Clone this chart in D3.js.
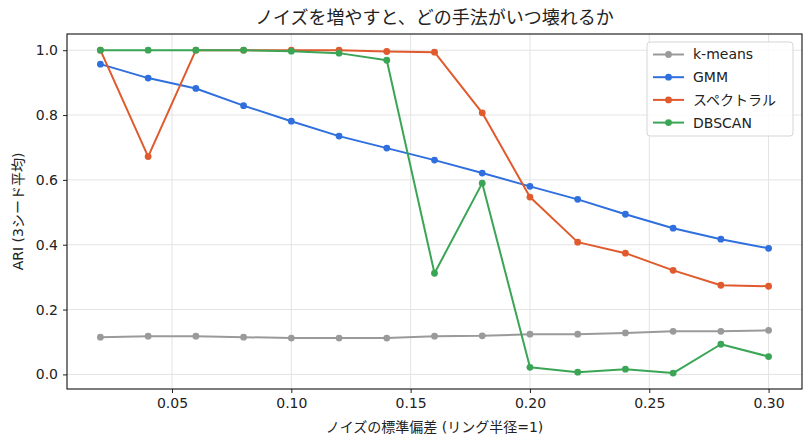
<!DOCTYPE html>
<html lang="ja">
<head>
<meta charset="utf-8">
<script src="https://cdn.jsdelivr.net/npm/d3@7/dist/d3.min.js"></script>
<style>
  body { margin: 0; background: #fff; }
  text { font-family: "DejaVu Sans", "Noto Sans CJK JP", sans-serif; fill: #222; }
</style>
</head>
<body>
<svg width="812" height="448"></svg>
<script>
// noise std values
var noise = [0.02, 0.04, 0.06, 0.08, 0.10, 0.12, 0.14, 0.16, 0.18, 0.20, 0.22, 0.24, 0.26, 0.28, 0.30];

var kmeans   = [0.115, 0.118, 0.118, 0.115, 0.112, 0.112, 0.112, 0.118, 0.119, 0.124, 0.124, 0.128, 0.133, 0.133, 0.136];
var gmm      = [0.957, 0.914, 0.882, 0.829, 0.781, 0.735, 0.698, 0.661, 0.621, 0.580, 0.540, 0.494, 0.451, 0.417, 0.389];
var spectral = [1.000, 0.672, 1.000, 1.000, 1.000, 1.000, 0.996, 0.994, 0.807, 0.547, 0.408, 0.374, 0.321, 0.275, 0.272];
var dbscan   = [1.000, 1.000, 1.000, 1.000, 0.997, 0.991, 0.969, 0.312, 0.590, 0.022, 0.007, 0.016, 0.004, 0.093, 0.055];

var xTicks = [0.05, 0.10, 0.15, 0.20, 0.25, 0.30];
var yTicks = [0.0, 0.2, 0.4, 0.6, 0.8, 1.0];

var seriesNames  = ["k-means", "GMM", "スペクトラル", "DBSCAN"];
var seriesColors = ["#9a9a9a", "#2f6fde", "#e05a2d", "#3ba556"];
var seriesData   = [kmeans, gmm, spectral, dbscan];

var margin = {top: 34, right: 10, bottom: 59, left: 67};
var width = 812 - margin.left - margin.right;
var height = 448 - margin.top - margin.bottom;

var svg = d3.select("svg");
var g = svg.append("g")
  .attr("transform", "translate(" + margin.left + "," + margin.top + ")");

var x = d3.scaleLinear().domain([0.006, 0.314]).range([0, width]);
var y = d3.scaleLinear().domain([-0.045, 1.05]).range([height, 0]);

// grid
g.append("g").selectAll("line").data(xTicks).enter().append("line")
  .attr("x1", function(d) { return x(d); }).attr("x2", function(d) { return x(d); })
  .attr("y1", 0).attr("y2", height)
  .attr("stroke", "#e3e3e3").attr("stroke-width", 1);
g.append("g").selectAll("line").data(yTicks).enter().append("line")
  .attr("y1", function(d) { return y(d); }).attr("y2", function(d) { return y(d); })
  .attr("x1", 0).attr("x2", width)
  .attr("stroke", "#e3e3e3").attr("stroke-width", 1);

// axes
var xAxis = g.append("g")
  .attr("transform", "translate(0," + height + ")")
  .call(d3.axisBottom(x).tickValues(xTicks).tickFormat(d3.format(".2f")).tickSizeOuter(0).tickSize(4).tickPadding(5));
var yAxis = g.append("g")
  .call(d3.axisLeft(y).tickValues(yTicks).tickFormat(d3.format(".1f")).tickSizeOuter(0).tickSize(4).tickPadding(5));
[xAxis, yAxis].forEach(function(a) {
  a.select(".domain").remove();
  a.selectAll("text").style("font-size", "14px").style("font-family", '"DejaVu Sans", sans-serif').attr("fill", "#222");
  a.selectAll("line").attr("stroke", "#222");
});

// lines
var line = d3.line()
  .x(function(d, i) { return x(noise[i]); })
  .y(function(d) { return y(d); });

seriesData.forEach(function(s, k) {
  g.append("path")
    .datum(s)
    .attr("fill", "none")
    .attr("stroke", seriesColors[k])
    .attr("stroke-width", 2)
    .attr("stroke-linejoin", "round")
    .attr("d", line);
  g.append("g").selectAll("circle").data(s).enter().append("circle")
    .attr("cx", function(d, i) { return x(noise[i]); })
    .attr("cy", function(d) { return y(d); })
    .attr("r", 3.4)
    .attr("fill", seriesColors[k]);
});

// frame
g.append("rect")
  .attr("width", width).attr("height", height)
  .attr("fill", "none").attr("stroke", "#111").attr("stroke-width", 1.1);

// legend
var lg = g.append("g").attr("transform", "translate(" + (647 - margin.left) + "," + (42 - margin.top) + ")");
lg.append("rect")
  .attr("width", 146).attr("height", 94).attr("rx", 3)
  .attr("fill", "#fff").attr("fill-opacity", 0.85)
  .attr("stroke", "#d5d5d5");
seriesNames.forEach(function(name, k) {
  var row = lg.append("g").attr("transform", "translate(0," + (12.5 + k * 22.7) + ")");
  row.append("line").attr("x1", 6).attr("x2", 37).attr("y1", 0).attr("y2", 0)
    .attr("stroke", seriesColors[k]).attr("stroke-width", 2);
  row.append("circle").attr("cx", 21.5).attr("cy", 0).attr("r", 3.4).attr("fill", seriesColors[k]);
  row.append("text").attr("x", 46).attr("y", 0).attr("dy", "0.35em")
    .style("font-size", "14px").text(name);
});

// titles
svg.append("text")
  .attr("x", margin.left + width / 2).attr("y", 18).attr("dy", "0.35em")
  .attr("text-anchor", "middle").style("font-size", "18px")
  .text("ノイズを増やすと、どの手法がいつ壊れるか");
svg.append("text")
  .attr("x", margin.left + width / 2).attr("y", 427).attr("dy", "0.35em")
  .attr("text-anchor", "middle").style("font-size", "14px")
  .text("ノイズの標準偏差 (リング半径=1)");
svg.append("text")
  .attr("transform", "translate(18," + (margin.top + height / 2) + ") rotate(-90)")
  .attr("dy", "0.35em")
  .attr("text-anchor", "middle").style("font-size", "14px")
  .text("ARI (3シード平均)");
</script>
</body>
</html>
